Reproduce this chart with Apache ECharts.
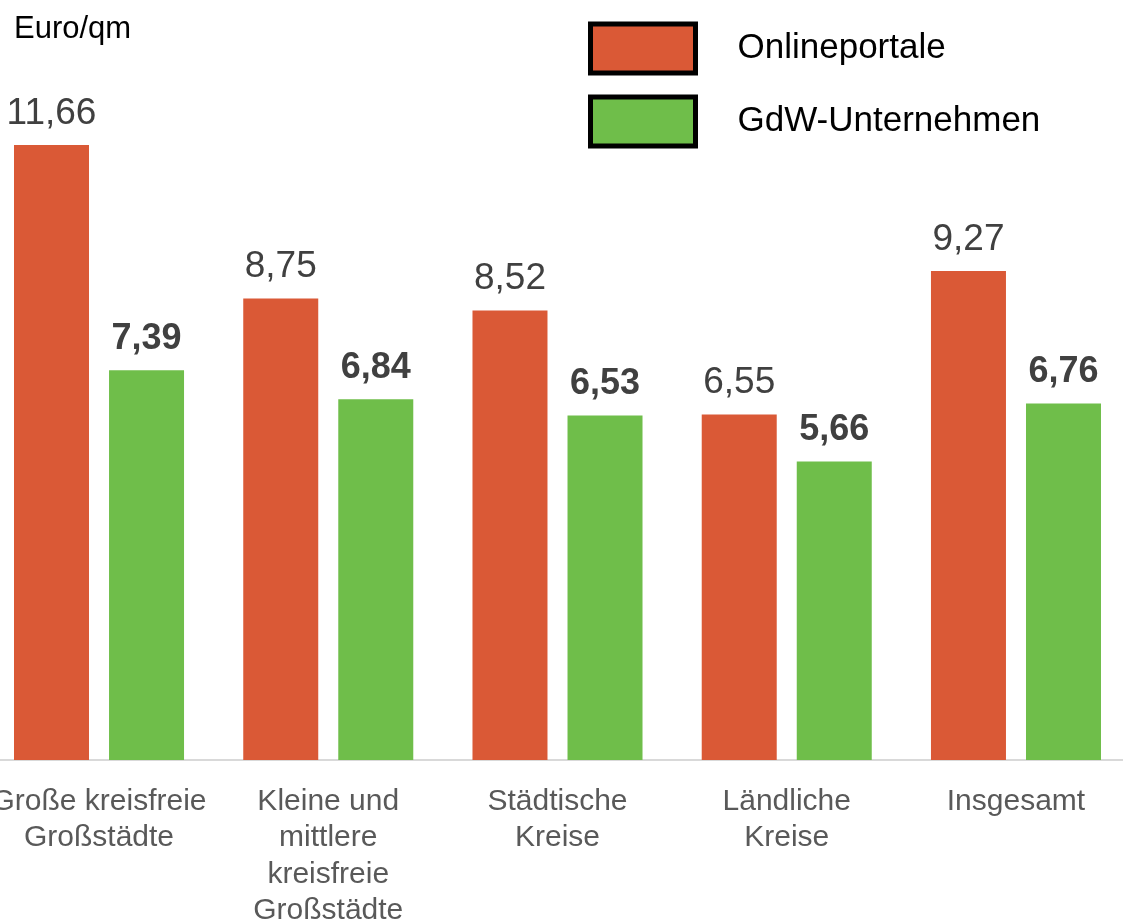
<!DOCTYPE html>
<html>
<head>
<meta charset="utf-8">
<script src="https://cdn.jsdelivr.net/npm/echarts@6/dist/echarts.min.js"></script>
<style>
  html, body { margin: 0; padding: 0; background: #fff; }
  #chart { width: 1123px; height: 922px; }
</style>
</head>
<body>
<div id="chart"></div>
<script>
// Angebotsmieten je Regionstyp (Euro/qm)
const categories = [
  'Große kreisfreie\nGroßstädte',
  'Kleine und\nmittlere\nkreisfreie\nGroßstädte',
  'Städtische\nKreise',
  'Ländliche\nKreise',
  'Insgesamt'
];
const onlineportale = [11.66, 8.75, 8.52, 6.55, 9.27];
const gdwUnternehmen = [7.39, 6.84, 6.53, 5.66, 6.76];
const seriesNames = ['Onlineportale', 'GdW-Unternehmen'];
const unitLabel = 'Euro/qm';

const FONT = '"Liberation Sans", Arial, sans-serif';
const fmt = p => p.value.toFixed(2).replace('.', ',');

const chart = echarts.init(document.getElementById('chart'), null, { renderer: 'canvas' });
chart.setOption({
  backgroundColor: '#ffffff',
  animation: false,
  title: {
    text: unitLabel,
    left: 14,
    top: 14,
    padding: 0,
    textStyle: { fontFamily: FONT, fontSize: 31, fontWeight: 'normal', color: '#000000' }
  },
  legend: {
    orient: 'vertical',
    left: 588,
    top: 21.5,
    padding: 0,
    itemWidth: 105,
    itemHeight: 49,
    itemGap: 19,
    icon: 'rect',
    textStyle: {
      fontFamily: FONT, fontSize: 35, lineHeight: 40,
      color: '#000000', padding: [0, 0, 0, 37]
    },
    itemStyle: { borderColor: '#000000', borderWidth: 5 },
    data: seriesNames
  },
  grid: {
    left: -15.6,
    width: 1146.2,
    top: 21.5,
    bottom: 162,
    containLabel: false,
    outerBoundsMode: 'none'
  },
  xAxis: {
    type: 'category',
    data: categories,
    axisLine: { show: true, lineStyle: { color: '#d9d9d9', width: 2 } },
    axisTick: { show: false },
    axisLabel: {
      interval: 0,
      margin: 23,
      fontFamily: FONT,
      fontSize: 30,
      lineHeight: 36.5,
      color: '#595959',
      align: 'center'
    }
  },
  yAxis: {
    type: 'value',
    min: 0,
    max: 14,
    show: false,
    splitLine: { show: false }
  },
  series: [
    {
      name: seriesNames[0],
      type: 'bar',
      data: onlineportale,
      barWidth: 75,
      barGap: '26.7%',
      itemStyle: { color: '#DA5936' },
      label: {
        show: true,
        position: 'top',
        distance: 13,
        formatter: fmt,
        fontFamily: FONT,
        fontSize: 37,
        color: '#404040'
      }
    },
    {
      name: seriesNames[1],
      type: 'bar',
      data: gdwUnternehmen,
      barWidth: 75,
      itemStyle: { color: '#6FBE4A' },
      label: {
        show: true,
        position: 'top',
        distance: 13,
        formatter: fmt,
        fontFamily: FONT,
        fontSize: 36,
        fontWeight: 'bold',
        color: '#404040'
      }
    }
  ]
});
</script>
</body>
</html>
